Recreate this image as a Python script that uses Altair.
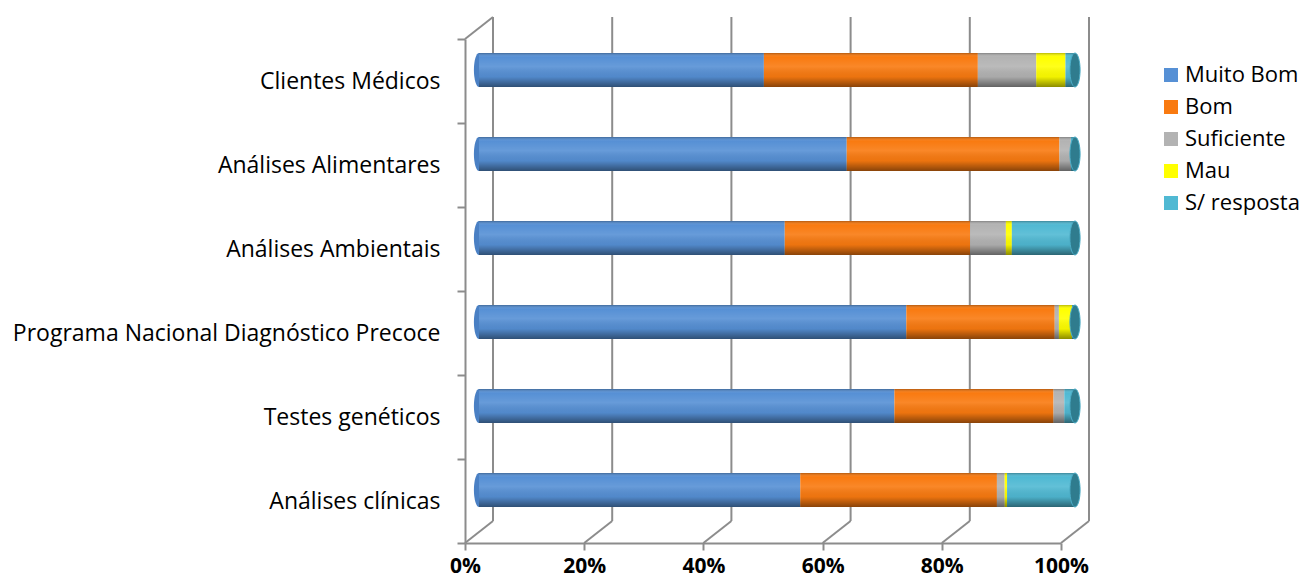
import altair as alt
import pandas as pd

categories = ["Clientes Médicos", "Análises Alimentares", "Análises Ambientais",
              "Programa Nacional Diagnóstico Precoce", "Testes genéticos", "Análises clínicas"]
series = ["Muito Bom", "Bom", "Suficiente", "Mau", "S/ resposta"]
muito_bom = [47.8, 61.7, 51.3, 71.7, 69.7, 53.9]
bom = [35.9, 35.7, 31.1, 24.9, 26.7, 33.0]
suficiente = [9.8, 1.9, 6.0, 0.7, 1.8, 1.3]
mau = [4.9, 0.0, 1.0, 2.2, 0.0, 0.4]
s_resposta = [1.6, 0.7, 10.6, 0.5, 1.8, 11.4]
ticks = [0, 20, 40, 60, 80, 100]
colors = ["#5690D5", "#F97A10", "#B3B3B3", "#FFFF00", "#50B9D3"]

FONT = "Open Sans"
W, H = 596, 504
DX, DY = 28, -22          # depth of the 3D box
BX, BY = 14, -11          # bars sit half way in depth
BAR = 34

rows = []
for s, vals in zip(series, [muito_bom, bom, suficiente, mau, s_resposta]):
    for c, v in zip(categories, vals):
        rows.append({"cat": c, "serie": s, "val": v, "ord": series.index(s)})
df = pd.DataFrame(rows)
cap_df = pd.DataFrame({"cat": categories, "start": [0] * 6, "end": [100] * 6})
tick_df = pd.DataFrame({"t": ticks})

grey = "#8C8C8C"
xs = alt.Scale(domain=[0, 100], nice=False, zero=True)
ys = alt.Scale(domain=categories, paddingInner=0, paddingOuter=0)
xaxis = alt.Axis(values=ticks, labelExpr="datum.value + '%'", grid=False, labelFlush=False,
                 domainColor=grey, domainWidth=2, tickColor=grey, tickWidth=2, tickSize=7,
                 labelFont=FONT, labelFontSize=21, labelFontWeight="bold", labelColor="black",
                 labelPadding=5, title=None)
yaxis = alt.Axis(tickBand="extent", domainColor=grey, domainWidth=2, tickColor=grey,
                 tickWidth=2, tickSize=8, labelFont=FONT, labelFontSize=23,
                 labelColor="black", labelPadding=17, title=None, labelLimit=600)


def X(field, **kw):
    return alt.X(field, scale=xs, axis=xaxis, **kw)


def Y(field):
    return alt.Y(field, scale=ys, axis=yaxis, sort=categories)


back_grid = alt.Chart(tick_df).mark_rule(color=grey, strokeWidth=2, xOffset=DX, x2Offset=DX,
                                         yOffset=DY, y2Offset=DY).encode(
    x=X("t:Q"), y=alt.value(0), y2=alt.value(H))

bottom_diag = alt.Chart(tick_df).mark_rule(color=grey, strokeWidth=2, x2Offset=DX, y2Offset=DY).encode(
    x=X("t:Q"), x2="t:Q", y=alt.value(H), y2=alt.value(H))

top_diag = alt.Chart(tick_df).transform_filter("datum.t == 0").mark_rule(
    color=grey, strokeWidth=2, x2Offset=DX, y2Offset=DY).encode(
    x=X("t:Q"), x2="t:Q", y=alt.value(0), y2=alt.value(0))

ellipse = "M 0 -1 A 0.3 1 0 0 1 0 1 A 0.3 1 0 0 1 0 -1 Z"

left_cap = alt.Chart(cap_df).mark_point(shape=ellipse, size=BAR * BAR, filled=True, opacity=1,
                                        color="#4A80C4", xOffset=BX, yOffset=BY).encode(
    x=X("start:Q"), y=Y("cat:N"))

bars = alt.Chart(df).mark_bar(size=BAR, xOffset=BX, x2Offset=BX, yOffset=BY, y2Offset=BY).encode(
    x=X("val:Q", stack="zero"),
    y=Y("cat:N"),
    color=alt.Color("serie:N", scale=alt.Scale(domain=series, range=colors),
                    legend=alt.Legend(orient="none", legendX=695, legendY=25, title=None,
                                      symbolType="square", symbolSize=196, symbolStrokeWidth=0,
                                      labelFont=FONT, labelFontSize=22, labelColor="black",
                                      rowPadding=10, labelOffset=3)),
    order=alt.Order("ord:Q"),
)

shade = alt.Chart(cap_df).mark_bar(
    size=BAR, xOffset=BX, x2Offset=BX, yOffset=BY, y2Offset=BY,
    fill=alt.Gradient(gradient="linear", x1=0, x2=0, y1=0, y2=1, stops=[
        alt.GradientStop(color="rgba(0,0,0,0.28)", offset=0),
        alt.GradientStop(color="rgba(255,255,255,0.0)", offset=0.12),
        alt.GradientStop(color="rgba(255,255,255,0.10)", offset=0.4),
        alt.GradientStop(color="rgba(0,0,0,0.05)", offset=0.7),
        alt.GradientStop(color="rgba(0,0,0,0.45)", offset=1)])).encode(
    x=X("start:Q"), x2="end:Q", y=Y("cat:N"))

right_cap = alt.Chart(cap_df).mark_point(shape=ellipse, size=BAR * BAR, filled=True, opacity=1,
                                         color="#2F7C8E", stroke="#4BACC6", strokeWidth=1,
                                         xOffset=BX, yOffset=BY).encode(
    x=X("end:Q"), y=Y("cat:N"))

chart = alt.layer(back_grid, bottom_diag, top_diag, left_cap, bars, shade, right_cap).properties(
    width=W, height=H,
    autosize=alt.AutoSizeParams(type="none"),
    padding={"left": 457, "top": 31, "right": 238, "bottom": 35},
).configure_view(stroke=None)

chart.save("out.html", embed_options={"renderer": "svg", "actions": False})
